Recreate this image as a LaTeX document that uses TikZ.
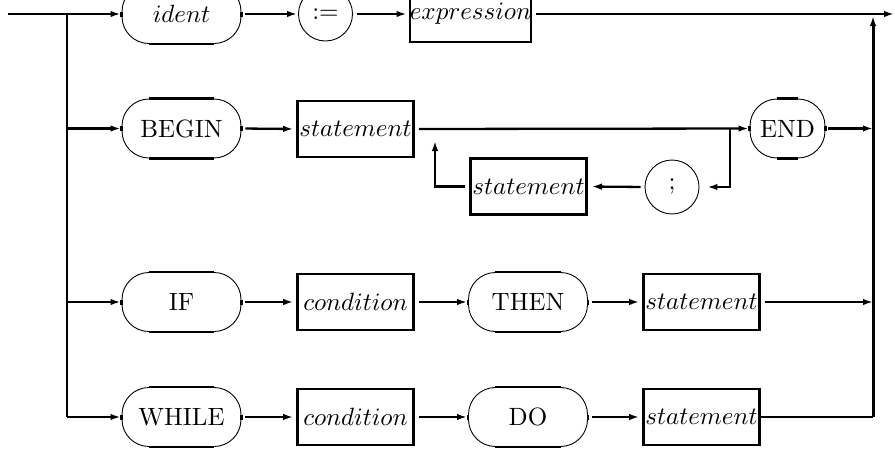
\documentclass[tikz,border=0pt]{standalone}
\usepackage{graphicx}
\usetikzlibrary{arrows.meta}
\newcommand{\bigtxt}[1]{\scalebox{2.5}{#1}}
\begin{document}
\begin{tikzpicture}[x=1pt,y=-1pt,
  every node/.style={inner sep=0pt},
  conn/.style={line width=2.3pt, -{Latex[length=10pt,width=6.5pt]}, shorten <=4pt},
  link/.style={line width=2.3pt},
  nt/.style={draw, line width=2.6pt, minimum width=116pt, minimum height=56pt},
  kw/.style={draw, line width=0.9pt, rounded corners=27pt, minimum width=119pt, minimum height=59pt},
  circ/.style={draw, circle, line width=0.9pt, minimum size=54pt},
  flatpart/.style={line width=2.3pt}
]
\useasboundingbox (0,0) rectangle (895,448);

% nodes
\node[kw] (ident) at (181.5,14) {\bigtxt{$ident$}};
\node[circ] (assign) at (325.5,14) {\bigtxt{$:=$}};
\node[nt] (expr) at (470.5,14) {\bigtxt{$expression$}};

\node[kw] (begin) at (181.5,128.5) {\bigtxt{BEGIN}};
\node[nt] (stmtA) at (355.5,129) {\bigtxt{$statement$}};
\node[kw, minimum width=75pt] (end) at (787.5,128.5) {\bigtxt{END}};
\node[circ] (semi) at (672,187) {\bigtxt{;}};
\node[nt] (stmtB) at (528.5,186.5) {\bigtxt{$statement$}};

\node[kw] (if) at (181.5,302) {\bigtxt{IF}};
\node[nt] (condA) at (355.5,302) {\bigtxt{$condition$}};
\node[kw] (then) at (528,302) {\bigtxt{THEN}};
\node[nt] (stmtC) at (701.5,302) {\bigtxt{$statement$}};

\node[kw] (while) at (181.5,417) {\bigtxt{WHILE}};
\node[nt] (condB) at (355.5,417) {\bigtxt{$condition$}};
\node[kw] (do) at (528,417) {\bigtxt{DO}};
\node[nt] (stmtD) at (701.5,417) {\bigtxt{$statement$}};

% thick straight parts of the ovals
\foreach \n in {ident,begin,end,if,then,while,do}{
  \draw[flatpart] ([xshift=27pt]\n.north west) -- ([xshift=-27pt]\n.north east);
  \draw[flatpart] ([xshift=27pt]\n.south west) -- ([xshift=-27pt]\n.south east);
  \draw[flatpart] ([yshift=2.5pt]\n.west) -- ([yshift=-2.5pt]\n.west);
  \draw[flatpart] ([yshift=2.5pt]\n.east) -- ([yshift=-2.5pt]\n.east);
}

% coordinates
\coordinate (start) at (8,14);
\coordinate (b1) at (67,14);
\coordinate (b2) at (67,128.5);
\coordinate (b3) at (67,302);
\coordinate (b4) at (67,417);
\coordinate (exit) at (895,14);
\coordinate (r1) at (873,16);
\coordinate (r2) at (873,128.5);
\coordinate (r3) at (873,302);
\coordinate (r4) at (873,417);
\coordinate (loopR) at (730,128.5);
\coordinate (loopL) at (435,141);

% left branching
\draw[conn, shorten <=0pt, shorten >=1pt] (start) -- (ident.west);
\draw[link] (b1) -- (b4);
\draw[conn, shorten <=0pt, shorten >=1pt] (b2) -- (begin.west);
\draw[conn, shorten <=0pt, shorten >=1pt] (b3) -- (if.west);
\draw[conn, shorten <=0pt, shorten >=1pt] (b4) -- (while.west);

% row 1
\draw[conn, shorten >=1pt] (ident.east) -- (assign.west);
\draw[conn, shorten >=2pt] (assign.east) -- (expr.west);
\draw[conn, shorten >=1pt] (expr.east) -- (exit);

% row 2
\draw[conn, shorten >=3pt] (begin.east) -- (stmtA.west);
\draw[conn, shorten >=1pt] (stmtA.east) -- (end.west);
\draw[conn, shorten <=3pt, shorten >=0pt] (end.east) -- (r2);
\draw[conn, shorten <=0pt, shorten >=8pt] (loopR) |- (semi.east);
\draw[conn, shorten >=4pt] (semi.west) -- (stmtB.east);
\draw[conn, shorten >=0pt] (stmtB.west) -| (loopL);

% row 3
\draw[conn, shorten >=3pt] (if.east) -- (condA.west);
\draw[conn, shorten >=1pt] (condA.east) -- (then.west);
\draw[conn, shorten >=3pt] (then.east) -- (stmtC.west);
\draw[conn, shorten >=0pt] (stmtC.east) -- (r3);

% row 4
\draw[conn, shorten >=3pt] (while.east) -- (condB.west);
\draw[conn, shorten >=1pt] (condB.east) -- (do.west);
\draw[conn, shorten >=3pt] (do.east) -- (stmtD.west);
\draw[link] (stmtD.east) -- (r4);
\draw[conn, line width=3pt, shorten <=0pt, shorten >=0pt] (r4) -- (r1);
\end{tikzpicture}
\end{document}
